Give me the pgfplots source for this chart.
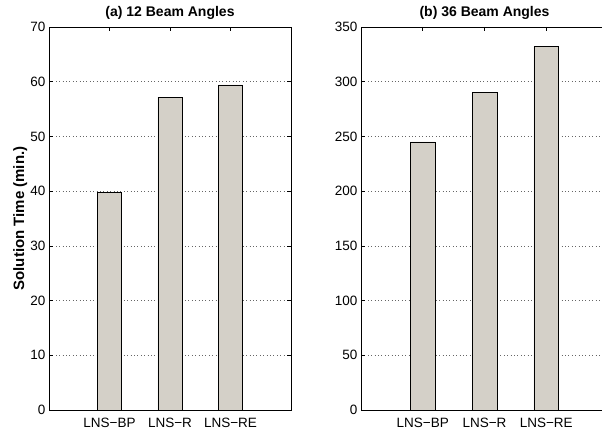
\documentclass[border=0pt]{standalone}
\usepackage{fontspec}
\setmainfont{Liberation Sans}
\usepackage{pgfplots}
\pgfplotsset{compat=1.18}
\definecolor{barfill}{RGB}{212,208,200}

\pgfplotsset{
  matlabbars/.style={
    scale only axis,
    height=383pt,
    xmin=0, xmax=4, ymin=0,
    xtick={1,2,3},
    xticklabels={LNS−BP,LNS−R,LNS−RE},
    tick pos=both,
    ticklabel pos=left,
    xticklabel pos=bottom,
    tick align=inside,
    major tick length=4pt,
    minor tick num=0,
    ymajorgrids,
    grid style={black!60, dash pattern=on 0.8pt off 2.6pt, line width=0.6pt},
    axis line style={line width=0.8pt},
    every tick/.style={black, line width=0.6pt},
    tick label style={font=\fontsize{13.5}{16}\selectfont},
    /pgf/number format/assume math mode=true,
    xticklabel style={anchor=base, inner sep=0pt, yshift=-17pt},
    title style={font=\bfseries\fontsize{14}{17}\selectfont, at={(0.5,1)},
      anchor=base, inner sep=0pt, yshift=4.3pt},
  },
  matlabbar/.style={ybar, bar width=0.4, fill=barfill, draw=black, line width=0.6pt},
}

\begin{document}
\begin{tikzpicture}
\useasboundingbox (0,0) rectangle (602pt,431pt);

% (a) 12 beam angles
\begin{axis}[matlabbars,
  at={(49pt,21pt)}, anchor=south west,
  width=242pt,
  ymax=70, ytick={0,10,...,70},
  title={(a) 12 Beam Angles},
  ylabel={Solution Time (min.)},
  ylabel style={font=\bfseries\fontsize{15}{18}\selectfont,
    at={(axis description cs:-0.119,0.5)}, anchor=center},
]
\addplot[matlabbar] coordinates {(1,39.8) (2,57.2) (3,59.4)};
\end{axis}

% (b) 36 beam angles
\begin{axis}[matlabbars,
  at={(361pt,21pt)}, anchor=south west,
  width=247pt,
  ymax=350, ytick={0,50,...,350},
  title={(b) 36 Beam Angles},
]
\addplot[matlabbar] coordinates {(1,245) (2,290) (3,332)};
\end{axis}
\end{tikzpicture}
\end{document}
